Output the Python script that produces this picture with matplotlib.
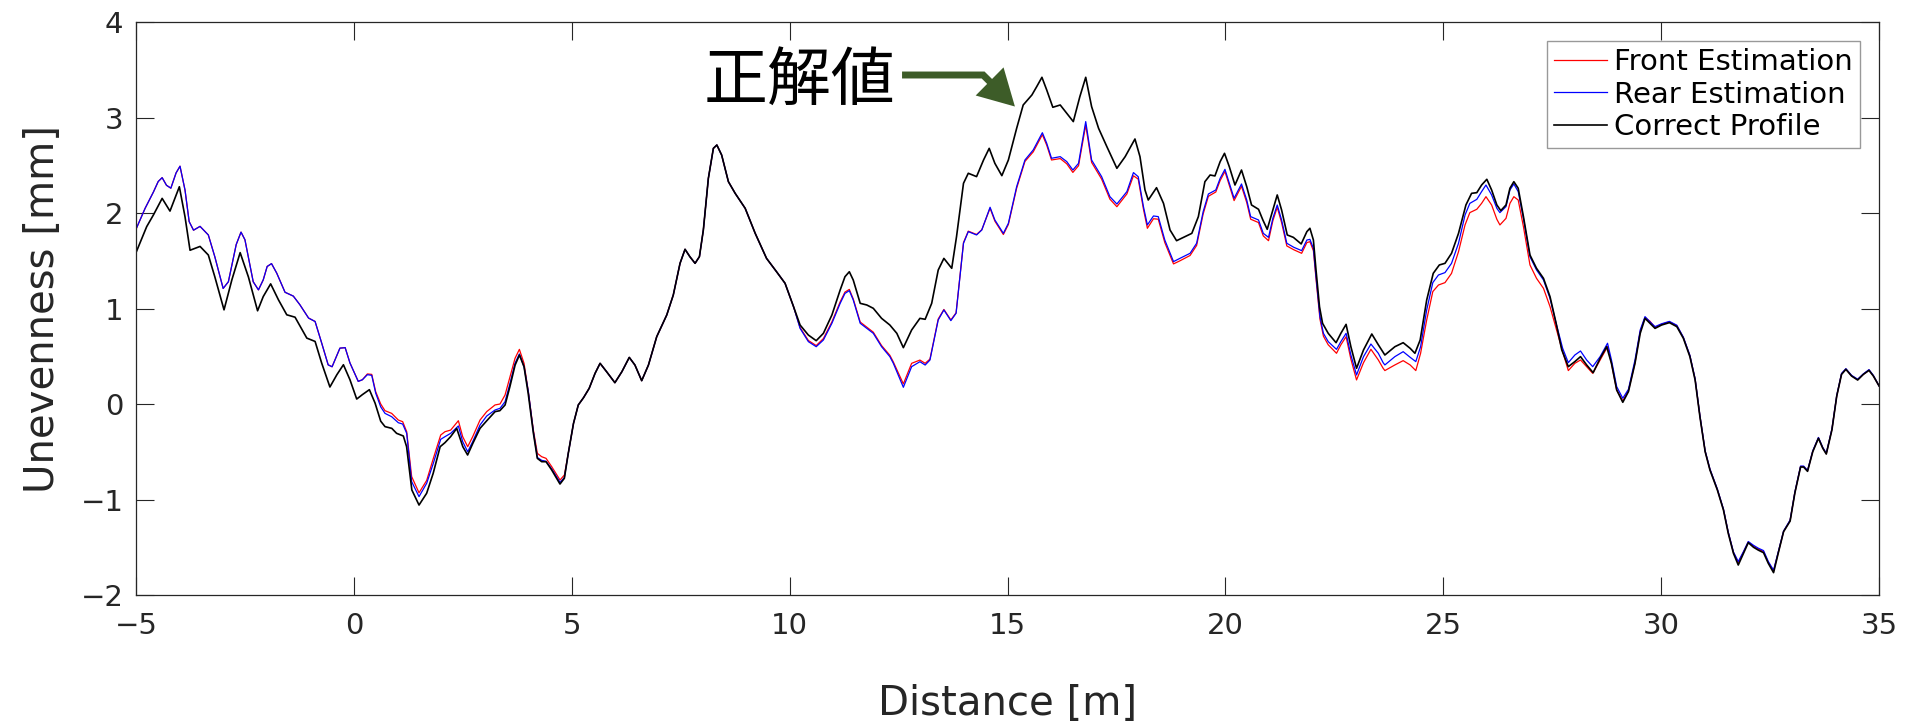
import numpy as np
import matplotlib
matplotlib.use('Agg')
import matplotlib.pyplot as plt
from matplotlib.patches import FancyArrowPatch
from matplotlib.path import Path

# Correct Profile (black)
x_correct = [-5.0, -4.755, -4.6, -4.4, -4.22, -4.005, -3.875, -3.76, -3.53, -3.34, -3.19, -2.98, -2.8, -2.61, -2.42,
             -2.21, -2.08, -1.91, -1.73, -1.54, -1.35, -1.08, -0.89, -0.74, -0.55, -0.39, -0.24, -0.09, 0.065, 0.195,
             0.356, 0.486, 0.616, 0.715, 0.87, 0.98, 1.135, 1.21, 1.33, 1.495, 1.67, 1.82, 1.98, 2.09, 2.22, 2.36,
             2.5, 2.61, 2.73, 2.895, 3.05, 3.24, 3.35, 3.47, 3.58, 3.7, 3.8, 3.905, 4.0, 4.12, 4.21, 4.31, 4.41,
             4.54, 4.73, 4.83, 4.92, 5.04, 5.15, 5.27, 5.4, 5.535, 5.65, 5.8, 5.99, 6.15, 6.32, 6.45, 6.605, 6.76,
             6.95, 7.18, 7.33, 7.485, 7.6, 7.71, 7.83, 7.93, 8.02, 8.135, 8.25, 8.33, 8.44, 8.595, 8.75, 8.98, 9.21,
             9.47, 9.7, 9.895, 10.09, 10.24, 10.43, 10.61, 10.775, 10.97, 11.16, 11.27, 11.37, 11.46, 11.62, 11.77,
             11.92, 12.11, 12.3, 12.46, 12.61, 12.8, 12.99, 13.11, 13.26, 13.41, 13.54, 13.72, 13.83, 13.99, 14.1,
             14.29, 14.45, 14.58, 14.71, 14.87, 15.02, 15.21, 15.36, 15.56, 15.67, 15.79, 15.9, 16.04, 16.21, 16.36,
             16.51, 16.66, 16.795, 16.93, 17.09, 17.28, 17.51, 17.7, 17.925, 18.04, 18.155, 18.23, 18.42, 18.58,
             18.73, 18.88, 19.07, 19.23, 19.38, 19.53, 19.65, 19.76, 19.88, 19.98, 20.09, 20.22, 20.37, 20.49, 20.6,
             20.76, 20.86, 20.96, 21.09, 21.19, 21.29, 21.42, 21.56, 21.74, 21.87, 21.94, 22.02, 22.08, 22.16, 22.23,
             22.36, 22.54, 22.65, 22.77, 22.88, 23.01, 23.17, 23.36, 23.51, 23.66, 23.89, 24.08, 24.24, 24.35, 24.47,
             24.62, 24.77, 24.91, 25.04, 25.19, 25.35, 25.52, 25.65, 25.77, 25.88, 26.0, 26.11, 26.23, 26.32, 26.44,
             26.53, 26.62, 26.72, 26.84, 26.99, 27.14, 27.3, 27.45, 27.59, 27.72, 27.87, 28.02, 28.15, 28.29, 28.44,
             28.6, 28.75, 28.86, 28.98, 29.12, 29.25, 29.4, 29.52, 29.63, 29.745, 29.86, 30.01, 30.19, 30.36, 30.51,
             30.66, 30.78, 30.89, 31.01, 31.12, 31.29, 31.43, 31.54, 31.66, 31.77, 31.89, 32.0, 32.12, 32.23, 32.35,
             32.46, 32.58, 32.69, 32.81, 32.96, 33.07, 33.2, 33.27, 33.36, 33.48, 33.61, 33.71, 33.79, 33.92, 34.03,
             34.14, 34.24, 34.37, 34.51, 34.64, 34.77, 34.87, 35.0]
y_correct = [1.585, 1.857, 1.98, 2.153, 2.02, 2.275, 1.96, 1.61, 1.65, 1.56, 1.33, 0.986, 1.3, 1.585, 1.33,
             0.976, 1.125, 1.258, 1.09, 0.934, 0.909, 0.69, 0.655, 0.43, 0.178, 0.307, 0.411, 0.254, 0.052, 0.098,
             0.15, 0.01, -0.18, -0.237, -0.255, -0.307, -0.335, -0.447, -0.9, -1.058, -0.935, -0.726, -0.447, -0.405,
             -0.342, -0.255, -0.447, -0.534, -0.412, -0.255, -0.175, -0.08, -0.07, -0.01, 0.181, 0.408, 0.513, 0.39,
             0.112, -0.307, -0.569, -0.604, -0.604, -0.691, -0.838, -0.778, -0.517, -0.203, -0.01, 0.066, 0.164,
             0.321, 0.426, 0.338, 0.223, 0.338, 0.488, 0.408, 0.244, 0.408, 0.705, 0.932, 1.141, 1.473, 1.62, 1.543,
             1.473, 1.543, 1.822, 2.363, 2.677, 2.712, 2.607, 2.328, 2.206, 2.049, 1.787, 1.525, 1.385, 1.264, 1.019,
             0.827, 0.722, 0.663, 0.74, 0.932, 1.194, 1.333, 1.385, 1.298, 1.054, 1.037, 1.002, 0.897, 0.827, 0.74,
             0.59, 0.775, 0.897, 0.887, 1.054, 1.403, 1.525, 1.421, 1.752, 2.311, 2.416, 2.381, 2.555, 2.677, 2.52,
             2.391, 2.555, 2.887, 3.131, 3.236, 3.323, 3.421, 3.288, 3.107, 3.131, 3.044, 2.957, 3.218, 3.421, 3.114,
             2.887, 2.695, 2.468, 2.59, 2.775, 2.59, 2.241, 2.136, 2.265, 2.101, 1.822, 1.71, 1.752, 1.787, 1.962,
             2.328, 2.398, 2.388, 2.538, 2.625, 2.485, 2.293, 2.45, 2.276, 2.084, 2.039, 1.927, 1.829, 2.032, 2.189,
             2.032, 1.77, 1.745, 1.676, 1.805, 1.84, 1.717, 1.403, 1.019, 0.845, 0.74, 0.642, 0.74, 0.834, 0.6,
             0.374, 0.566, 0.733, 0.62, 0.513, 0.6, 0.642, 0.583, 0.531, 0.67, 1.089, 1.368, 1.456, 1.473, 1.578,
             1.787, 2.084, 2.206, 2.213, 2.293, 2.353, 2.241, 2.084, 2.025, 2.084, 2.259, 2.328, 2.259, 1.962, 1.56,
             1.421, 1.316, 1.124, 0.845, 0.566, 0.391, 0.444, 0.496, 0.409, 0.328, 0.478, 0.6, 0.426, 0.147, 0.018,
             0.13, 0.426, 0.74, 0.897, 0.845, 0.792, 0.827, 0.852, 0.81, 0.688, 0.496, 0.251, -0.133, -0.499, -0.691,
             -0.9, -1.11, -1.354, -1.564, -1.686, -1.564, -1.452, -1.5, -1.53, -1.557, -1.669, -1.766, -1.557,
             -1.337, -1.226, -0.93, -0.66, -0.66, -0.705, -0.499, -0.359, -0.464, -0.524, -0.27, 0.083, 0.31, 0.363,
             0.293, 0.251, 0.31, 0.352, 0.293, 0.19]

# Front / Rear Estimation (red / blue)
x_est = [-5.0, -4.79, -4.6, -4.49, -4.4, -4.3, -4.2, -4.08, -3.99, -3.875, -3.78, -3.68, -3.53, -3.34, -3.19, -3.0,
         -2.88, -2.7, -2.59, -2.5, -2.31, -2.19, -2.08, -1.99, -1.89, -1.77, -1.58, -1.39, -1.24, -1.04, -0.89, -0.74,
         -0.59, -0.5, -0.32, -0.2, -0.09, 0.1, 0.195, 0.31, 0.41, 0.5, 0.616, 0.714, 0.867, 1.02, 1.12, 1.212, 1.326,
         1.495, 1.671, 1.824, 1.992, 2.091, 2.222, 2.398, 2.497, 2.612, 2.727, 2.895, 3.048, 3.239, 3.354, 3.469,
         3.583, 3.698, 3.798, 3.905, 4.004, 4.119, 4.211, 4.31, 4.41, 4.54, 4.731, 4.831, 4.92, 5.04, 5.15, 5.27,
         5.4, 5.535, 5.65, 5.8, 5.99, 6.15, 6.32, 6.45, 6.605, 6.76, 6.95, 7.18, 7.33, 7.485, 7.6, 7.71, 7.83, 7.93,
         8.02, 8.135, 8.25, 8.33, 8.44, 8.595, 8.75, 8.98, 9.21, 9.47, 9.7, 9.895, 10.09, 10.24, 10.43, 10.61,
         10.775, 10.97, 11.16, 11.27, 11.37, 11.46, 11.62, 11.77, 11.92, 12.11, 12.3, 12.38, 12.61, 12.8, 12.99,
         13.11, 13.22, 13.41, 13.54, 13.7, 13.82, 13.99, 14.1, 14.29, 14.41, 14.6, 14.71, 14.905, 15.02, 15.21,
         15.4, 15.59, 15.8, 15.9, 16.01, 16.21, 16.36, 16.5, 16.63, 16.795, 16.93, 17.16, 17.35, 17.51, 17.74,
         17.89, 18.0, 18.12, 18.21, 18.35, 18.46, 18.61, 18.81, 18.96, 19.19, 19.34, 19.49, 19.61, 19.78, 19.88,
         19.99, 20.09, 20.2, 20.37, 20.49, 20.58, 20.76, 20.87, 20.99, 21.09, 21.19, 21.29, 21.41, 21.57, 21.75,
         21.87, 21.94, 22.02, 22.08, 22.17, 22.25, 22.36, 22.55, 22.65, 22.77, 22.88, 23.01, 23.17, 23.34, 23.51,
         23.62, 23.66, 23.89, 24.08, 24.24, 24.37, 24.48, 24.62, 24.76, 24.89, 25.04, 25.19, 25.35, 25.5, 25.61,
         25.77, 25.88, 25.98, 26.11, 26.23, 26.3, 26.44, 26.53, 26.62, 26.72, 26.84, 26.99, 27.14, 27.3, 27.45,
         27.59, 27.74, 27.87, 28.02, 28.15, 28.29, 28.43, 28.6, 28.77, 28.86, 28.98, 29.12, 29.25, 29.4, 29.52,
         29.63, 29.745, 29.86, 30.01, 30.19, 30.36, 30.51, 30.66, 30.78, 30.89, 31.01, 31.12, 31.29, 31.43, 31.54,
         31.66, 31.77, 31.89, 32.0, 32.12, 32.23, 32.35, 32.46, 32.58, 32.69, 32.81, 32.96, 33.07, 33.2, 33.27,
         33.36, 33.48, 33.61, 33.71, 33.79, 33.92, 34.03, 34.14, 34.24, 34.37, 34.51, 34.64, 34.77, 34.87, 35.0]
y_rear = [1.83, 2.05, 2.22, 2.33, 2.37, 2.29, 2.26, 2.42, 2.49, 2.24, 1.91, 1.82, 1.86, 1.77, 1.54, 1.21, 1.28, 1.67,
          1.8, 1.72, 1.28, 1.195, 1.3, 1.44, 1.47, 1.37, 1.17, 1.13, 1.04, 0.9, 0.864, 0.64, 0.41, 0.39, 0.585, 0.59,
          0.43, 0.237, 0.254, 0.307, 0.3, 0.115, -0.03, -0.098, -0.133, -0.196, -0.21, -0.307, -0.813, -0.97, -0.83,
          -0.62, -0.37, -0.342, -0.307, -0.23, -0.394, -0.5, -0.394, -0.22, -0.126, -0.063, -0.045, 0.024, 0.216,
          0.426, 0.524, 0.39, 0.129, -0.29, -0.56, -0.59, -0.6, -0.68, -0.82, -0.77, -0.517, -0.203, -0.01, 0.066,
          0.164, 0.321, 0.426, 0.338, 0.223, 0.338, 0.488, 0.408, 0.244, 0.408, 0.705, 0.932, 1.141, 1.473, 1.62,
          1.543, 1.473, 1.543, 1.822, 2.363, 2.677, 2.712, 2.607, 2.328, 2.206, 2.049, 1.787, 1.525, 1.385, 1.264,
          1.019, 0.792, 0.653, 0.6, 0.67, 0.845, 1.054, 1.158, 1.187, 1.089, 0.845, 0.792, 0.74, 0.6, 0.496, 0.426,
          0.175, 0.391, 0.443, 0.408, 0.46, 0.88, 0.985, 0.873, 0.95, 1.683, 1.805, 1.77, 1.822, 2.06, 1.927,
          1.787, 1.892, 2.276, 2.555, 2.66, 2.841, 2.73, 2.573, 2.59, 2.538, 2.45, 2.52, 2.957, 2.555, 2.381,
          2.171, 2.094, 2.224, 2.423, 2.38, 2.066, 1.875, 1.969, 1.962, 1.717, 1.491, 1.526, 1.578, 1.683, 2.014,
          2.199, 2.241, 2.363, 2.457, 2.311, 2.154, 2.304, 2.136, 1.962, 1.927, 1.787, 1.745, 1.945, 2.084, 1.927,
          1.683, 1.641, 1.606, 1.717, 1.724, 1.63, 1.333, 0.915, 0.74, 0.653, 0.572, 0.653, 0.74, 0.513, 0.304,
          0.496, 0.628, 0.531, 0.433, 0.409, 0.496, 0.548, 0.489, 0.444, 0.6, 0.985, 1.271, 1.351, 1.376, 1.473,
          1.683, 1.979, 2.101, 2.143, 2.224, 2.293, 2.189, 2.049, 2.004, 2.067, 2.241, 2.304, 2.224, 1.944, 1.543,
          1.404, 1.299, 1.107, 0.845, 0.583, 0.433, 0.513, 0.555, 0.461, 0.391, 0.496, 0.636, 0.461, 0.182, 0.06,
          0.154, 0.461, 0.775, 0.915, 0.86, 0.81, 0.84, 0.865, 0.825, 0.7, 0.51, 0.265, -0.12, -0.49, -0.68, -0.89,
          -1.1, -1.34, -1.55, -1.65, -1.545, -1.44, -1.48, -1.51, -1.535, -1.65, -1.74, -1.545, -1.33, -1.215,
          -0.92, -0.65, -0.65, -0.695, -0.49, -0.35, -0.455, -0.515, -0.26, 0.09, 0.32, 0.37, 0.3, 0.26, 0.315,
          0.36, 0.3, 0.19]
y_front = [1.83, 2.05, 2.22, 2.33, 2.37, 2.29, 2.26, 2.42, 2.49, 2.24, 1.91, 1.82, 1.86, 1.77, 1.54, 1.21, 1.28, 1.67,
           1.8, 1.72, 1.28, 1.195, 1.3, 1.44, 1.47, 1.37, 1.17, 1.13, 1.04, 0.9, 0.864, 0.64, 0.41, 0.39, 0.585, 0.59,
           0.43, 0.237, 0.254, 0.315, 0.31, 0.13, 0.0, -0.07, -0.098, -0.168, -0.185, -0.29, -0.76, -0.93, -0.8,
           -0.569, -0.325, -0.29, -0.273, -0.175, -0.342, -0.447, -0.342, -0.168, -0.08, -0.01, 0.0, 0.094, 0.286,
           0.478, 0.572, 0.426, 0.129, -0.272, -0.517, -0.552, -0.569, -0.656, -0.796, -0.743, -0.517, -0.203,
           -0.01, 0.066, 0.164, 0.321, 0.426, 0.338, 0.223, 0.338, 0.488, 0.408, 0.244, 0.408, 0.705, 0.932, 1.141,
           1.473, 1.62, 1.543, 1.473, 1.543, 1.822, 2.363, 2.677, 2.712, 2.607, 2.328, 2.206, 2.049, 1.787, 1.525,
           1.385, 1.264, 1.019, 0.8, 0.665, 0.612, 0.685, 0.86, 1.07, 1.172, 1.2, 1.1, 0.858, 0.805, 0.752, 0.612,
           0.51, 0.44, 0.21, 0.426, 0.46, 0.426, 0.47, 0.89, 0.99, 0.88, 0.955, 1.69, 1.81, 1.775, 1.825, 2.05,
           1.915, 1.775, 1.88, 2.26, 2.54, 2.64, 2.82, 2.71, 2.555, 2.57, 2.515, 2.425, 2.495, 2.92, 2.53, 2.355,
           2.145, 2.066, 2.2, 2.39, 2.355, 2.04, 1.84, 1.94, 1.935, 1.69, 1.467, 1.5, 1.555, 1.66, 1.99, 2.175,
           2.22, 2.34, 2.435, 2.29, 2.13, 2.28, 2.11, 1.935, 1.9, 1.76, 1.71, 1.92, 2.06, 1.9, 1.655, 1.615, 1.578,
           1.69, 1.7, 1.605, 1.31, 0.89, 0.71, 0.62, 0.531, 0.62, 0.705, 0.47, 0.252, 0.433, 0.573, 0.461, 0.374,
           0.35, 0.409, 0.454, 0.409, 0.35, 0.531, 0.88, 1.177, 1.246, 1.271, 1.368, 1.595, 1.875, 2.004, 2.039,
           2.101, 2.171, 2.084, 1.934, 1.875, 1.944, 2.101, 2.171, 2.136, 1.857, 1.456, 1.316, 1.211, 1.02, 0.793,
           0.548, 0.35, 0.426, 0.461, 0.391, 0.321, 0.461, 0.6, 0.426, 0.147, 0.03, 0.14, 0.43, 0.76, 0.905, 0.866,
           0.8, 0.835, 0.86, 0.82, 0.695, 0.505, 0.26, -0.125, -0.495, -0.685, -0.895, -1.105, -1.345, -1.555,
           -1.66, -1.55, -1.445, -1.49, -1.52, -1.545, -1.66, -1.75, -1.55, -1.335, -1.22, -0.925, -0.655, -0.655,
           -0.7, -0.495, -0.355, -0.46, -0.52, -0.265, 0.085, 0.315, 0.365, 0.295, 0.255, 0.31, 0.355, 0.295, 0.19]

# arrow for the annotation (data coords)
arrow_pts = [(12.58, 3.445), (14.44, 3.445), (15.17, 3.115)]

plt.rcParams['font.family'] = ['DejaVu Sans']

fig = plt.figure(figsize=(19.19, 7.28), dpi=100)
ax = fig.add_axes([0.07087, 0.18269, 0.90829, 0.78709])

ax.plot(x_est, y_front, color='r', lw=0.9, label='Front Estimation')
ax.plot(x_est, y_rear, color='b', lw=0.9, label='Rear Estimation')
ax.plot(x_correct, y_correct, color='k', lw=1.2, label='Correct Profile')

ax.set_xlim(-5, 35)
ax.set_ylim(-2, 4)
ax.set_xticks(np.arange(-5, 36, 5))
ax.set_yticks(np.arange(-2, 5, 1))

axc = '#262626'
for s in ax.spines.values():
    s.set_color(axc)
    s.set_linewidth(0.9)
ax.tick_params(direction='in', top=True, right=True, length=13, width=0.8, colors=axc)
ax.tick_params(axis='x', pad=12)
ax.tick_params(axis='y', pad=9)
for lab in ax.get_xticklabels() + ax.get_yticklabels():
    lab.set_fontsize(21)

ax.set_xlabel('Distance [m]', fontsize=29, color=axc)
ax.set_ylabel('Unevenness [mm]', fontsize=29, color=axc)
ax.xaxis.set_label_coords(0.5, -0.155)
ax.yaxis.set_label_coords(-0.042, 0.5)

leg = ax.legend(loc='upper right', fontsize=21, frameon=True, fancybox=False, edgecolor='#808080',
                handlelength=1.8, handletextpad=0.25, labelspacing=0.15, borderpad=0.25,
                borderaxespad=0.65)
leg.get_frame().set_linewidth(1.0)

# 正解値 annotation
ax.text(8.02, 3.38, '正解値', fontsize=46, family=['Noto Sans CJK JP', 'DejaVu Sans'],
        ha='left', va='center', color='k')
path = Path(arrow_pts, [Path.MOVETO, Path.LINETO, Path.LINETO])
arr = FancyArrowPatch(path=path, arrowstyle='-|>,head_length=18,head_width=10', mutation_scale=1,
                      lw=5, color='#3d5c28', joinstyle='miter', capstyle='butt')
ax.add_patch(arr)

fig.savefig('out.png', dpi=100)
